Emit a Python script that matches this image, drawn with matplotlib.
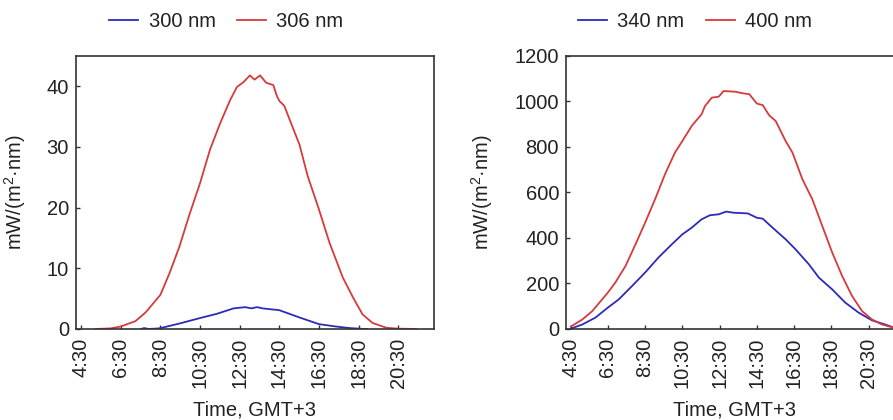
import numpy as np
import matplotlib
matplotlib.use("Agg")
import matplotlib.pyplot as plt

plt.rcParams["font.family"] = ["Liberation Sans", "DejaVu Sans"]
plt.rcParams["font.size"] = 14.5
plt.rcParams["text.color"] = "#222222"
plt.rcParams["axes.labelcolor"] = "#222222"
plt.rcParams["xtick.color"] = "#333333"
plt.rcParams["ytick.color"] = "#333333"
plt.rcParams["xtick.labelcolor"] = "#222222"
plt.rcParams["ytick.labelcolor"] = "#222222"
plt.rcParams["mathtext.default"] = "regular"

RED = "#d63a3a"
BLUE = "#2b2bb8"

# spectral irradiance, mW/(m2 nm), local time GMT+3
t_306 = ["5:15", "6:00", "6:30", "7:15", "7:45", "7:56", "8:30", "8:58", "9:28",
         "9:59", "10:30", "11:00", "11:31", "12:01", "12:22", "12:42", "13:01",
         "13:15", "13:32", "13:50", "14:12", "14:22", "14:30", "14:45", "15:05",
         "15:31", "15:56", "16:30", "17:02", "17:42", "18:13", "18:42", "19:12",
         "19:54", "20:30", "21:25"]
v_306 = [0.0, 0.1, 0.4, 1.3, 2.7, 3.4, 5.6, 9.2, 13.6,
         19.0, 24.0, 29.5, 33.9, 37.7, 39.9, 40.7, 41.8,
         41.1, 41.8, 40.6, 40.2, 38.5, 37.6, 36.8, 34.0,
         30.4, 25.2, 19.7, 14.2, 8.5, 5.2, 2.4, 1.0,
         0.2, 0.05, 0.0]

t_300 = ["7:32", "7:41", "7:55", "8:27", "9:28", "10:30", "11:21", "12:12",
         "12:47", "13:05", "13:23", "13:39", "14:30", "15:31", "16:30", "17:22",
         "18:03", "18:42", "18:55"]
v_300 = [0.0, 0.15, 0.0, 0.1, 0.9, 1.8, 2.5, 3.4,
         3.6, 3.4, 3.6, 3.4, 3.1, 1.9, 0.8, 0.4,
         0.15, 0.02, 0.0]

t_400 = ["4:30", "5:08", "5:40", "6:30", "6:54", "7:27", "7:59", "8:30", "9:02",
         "9:34", "10:06", "10:30", "11:00", "11:32", "11:43", "12:05", "12:27",
         "12:43", "13:20", "13:45", "14:06", "14:30", "14:49", "15:10", "15:31",
         "16:03", "16:25", "16:57", "17:29", "18:01", "18:33", "19:05", "19:37",
         "20:09", "20:41", "21:13", "21:39", "22:05"]
v_400 = [10, 42, 79, 160, 204, 277, 372, 467, 570,
         680, 775, 826, 892, 944, 980, 1017, 1021,
         1046, 1043, 1036, 1032, 991, 984, 939, 914,
         826, 775, 658, 570, 453, 336, 233, 145,
         79, 42, 20, 10, 4]

t_340 = ["4:30", "5:08", "5:50", "6:30", "7:05", "7:48", "8:30", "9:13", "9:56",
         "10:30", "11:00", "11:32", "11:59", "12:27", "12:51", "13:15", "14:01",
         "14:30", "14:49", "15:21", "16:03", "16:35", "17:18", "17:50", "18:33",
         "19:15", "19:58", "20:41", "21:23", "21:44", "22:05"]
v_340 = [1, 20, 50, 94, 130, 189, 248, 314, 372,
         416, 445, 482, 500, 504, 516, 511, 508,
         489, 485, 445, 394, 350, 284, 226, 174,
         116, 72, 38, 20, 10, 4]

tick_labels = ["4:30", "6:30", "8:30", "10:30", "12:30", "14:30", "16:30", "18:30", "20:30"]


def hours(times):
    return np.array([int(s.split(":")[0]) + int(s.split(":")[1]) / 60 for s in times])


fig = plt.figure(figsize=(8.93, 4.2), dpi=100)
ax1 = fig.add_axes([0.0851, 0.2167, 0.4009, 0.65])
ax2 = fig.add_axes([0.6338, 0.2167, 0.3763, 0.65])

panels = [
    (ax1, (t_300, v_300, "300 nm"), (t_306, v_306, "306 nm"), 45, np.arange(0, 41, 10), 0.2533),
    (ax2, (t_340, v_340, "340 nm"), (t_400, v_400, "400 nm"), 1200, np.arange(0, 1201, 200), 0.7783),
]

for ax, blue, red, ymax, yticks, leg_x in panels:
    ax.plot(hours(blue[0]), blue[1], color=BLUE, lw=1.3, label=blue[2])
    ax.plot(hours(red[0]), red[1], color=RED, lw=1.3, label=red[2])
    ax.set_xlim(4.25, 22.3)
    ax.set_ylim(0, ymax)
    ax.set_yticks(yticks)
    ax.set_xticks(hours(tick_labels))
    ax.set_xticklabels(tick_labels, rotation=90)
    ax.tick_params(direction="in", length=3, width=1)
    ax.tick_params(axis="x", pad=6)
    ax.tick_params(axis="y", pad=5)
    for sp in ax.spines.values():
        sp.set_color("#333333")
        sp.set_linewidth(1.2)
    ax.set_xlabel("Time, GMT+3", labelpad=9)
    ax.set_ylabel("mW/(m$^2$·nm)")
    ax.legend(loc="center", bbox_to_anchor=(leg_x, 0.948), bbox_transform=fig.transFigure,
              ncol=2, frameon=False, handlelength=1.45, handletextpad=0.5,
              columnspacing=1.05, borderpad=0)

ax1.yaxis.set_label_coords(-0.134, 0.5)
ax2.yaxis.set_label_coords(-0.211, 0.5)

fig.savefig("out.png", dpi=100)
